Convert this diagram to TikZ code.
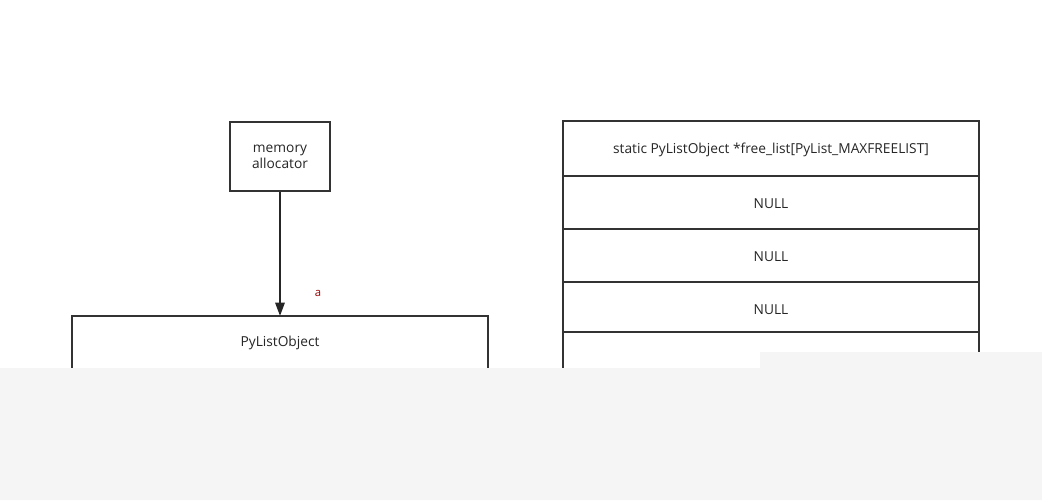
\documentclass[tikz,border=0pt]{standalone}
\usepackage{fontspec}
\setmainfont{Open Sans}
\usetikzlibrary{arrows.meta}
\definecolor{bggray}{HTML}{F5F5F5}
\begin{document}
\begin{tikzpicture}[x=0.75pt,y=-0.75pt,
  box/.style={draw=black!80,line width=1.5pt,fill=white},
  lbl/.style={font=\fontsize{10.3}{12}\selectfont,text=black!85},
  conn/.style={draw=black!85,line width=1.5pt,-{Triangle[length=10pt,width=7pt]}}]
\useasboundingbox (0,0) rectangle (1042,500);
\fill[white] (0,0) rectangle (1042,500);
% memory allocator
\node[box,minimum width=100*0.75pt,minimum height=69*0.75pt,inner sep=0pt,align=center,lbl] (mem) at (280,156.5) {memory\\allocator};
% PyListObject box (cut off below)
\draw[box] (72,420) -- (72,316) -- (488,316) -- (488,420);
\node[lbl] (plo) at (280,343) {PyListObject};
\coordinate (ploTop) at (280,316);
\draw[conn] (mem.south) -- (ploTop);
\node[font=\fontsize{8.5}{10}\selectfont,text=red!60!black] (a) at (318,293.5) {a};
% free_list table
\draw[box] (563,420) -- (563,121) -- (979,121) -- (979,420);
\draw[box] (563,176) -- (979,176);
\draw[box] (563,229) -- (979,229);
\draw[box] (563,282) -- (979,282);
\draw[box] (563,332) -- (979,332);
\node[lbl] (fl) at (771,149.5) {static PyListObject *free\_list[PyList\_MAXFREELIST]};
\node[lbl] (n1) at (771,204) {NULL};
\node[lbl] (n2) at (771,257) {NULL};
\node[lbl] (n3) at (771,310) {NULL};
% gray overlay
\fill[bggray] (0,368) -- (760,368) -- (760,352) -- (1042,352) -- (1042,500) -- (0,500) -- cycle;
\end{tikzpicture}
\end{document}
